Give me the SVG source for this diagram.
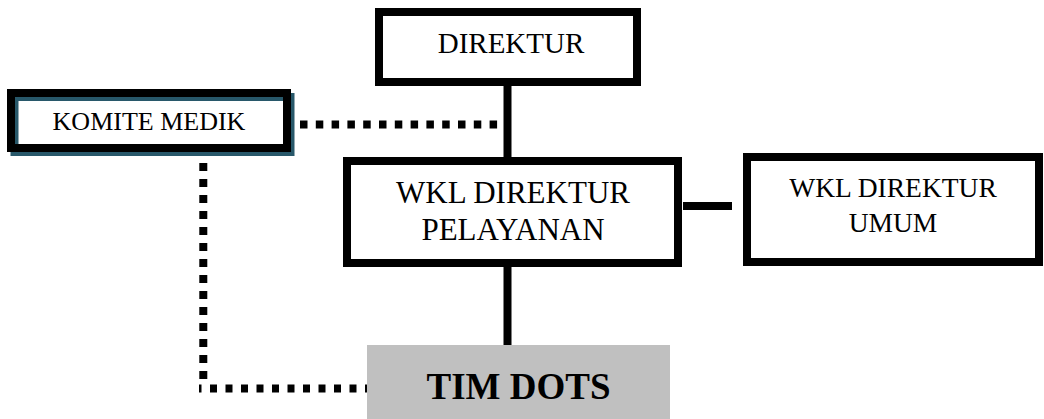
<svg xmlns="http://www.w3.org/2000/svg" width="1044" height="419" viewBox="0 0 1044 419">
<style>
.box{fill:#fff;stroke:#000;stroke-width:8}
.shadow{fill:none;stroke:#28586a;stroke-width:8}
.t{font-family:"Liberation Serif","Times New Roman",serif;fill:#000;text-anchor:middle}
.solid{stroke:#000;stroke-width:8;fill:none}
.dot{stroke:#000;stroke-width:8;fill:none}
</style>
<rect width="1044" height="419" fill="#fff"/>
<g id="connectors">
<path class="solid" d="M507.5,86 V157"/>
<path class="solid" d="M683,206 H732"/>
<path class="solid" d="M507.5,267 V353"/>
<path class="dot" d="M300,124.5 H500" stroke-dasharray="7.5 8.3"/>
<path class="dot" d="M203.3,147 V387" stroke-dasharray="8 8"/>
<path class="dot" d="M372,388.5 H199" stroke-dasharray="7 8.5"/>
</g>
<g id="direktur">
<rect class="box" x="379" y="12" width="258" height="70"/>
<text class="t" x="511" y="53" font-size="29">DIREKTUR</text>
</g>
<g id="komite-medik">
<rect class="shadow" x="14.5" y="97" width="276" height="55"/>
<rect class="box" x="11" y="93" width="276" height="55" style="fill:none"/>
<text class="t" x="149" y="130" font-size="26">KOMITE MEDIK</text>
</g>
<g id="wkl-pelayanan">
<rect class="box" x="347" y="161" width="331" height="102"/>
<text class="t" x="513" y="203" font-size="31">WKL DIREKTUR</text>
<text class="t" x="513" y="240" font-size="31">PELAYANAN</text>
</g>
<g id="wkl-umum">
<rect class="box" x="747" y="157" width="292" height="105"/>
<text class="t" x="893" y="197" font-size="27.5">WKL DIREKTUR</text>
<text class="t" x="893" y="232" font-size="27.5">UMUM</text>
</g>
<g id="tim-dots">
<rect x="367" y="345" width="303" height="74" fill="#c0c0c0"/>
<text class="t" x="518.5" y="399" font-size="37" font-weight="bold">TIM DOTS</text>
</g>
</svg>
